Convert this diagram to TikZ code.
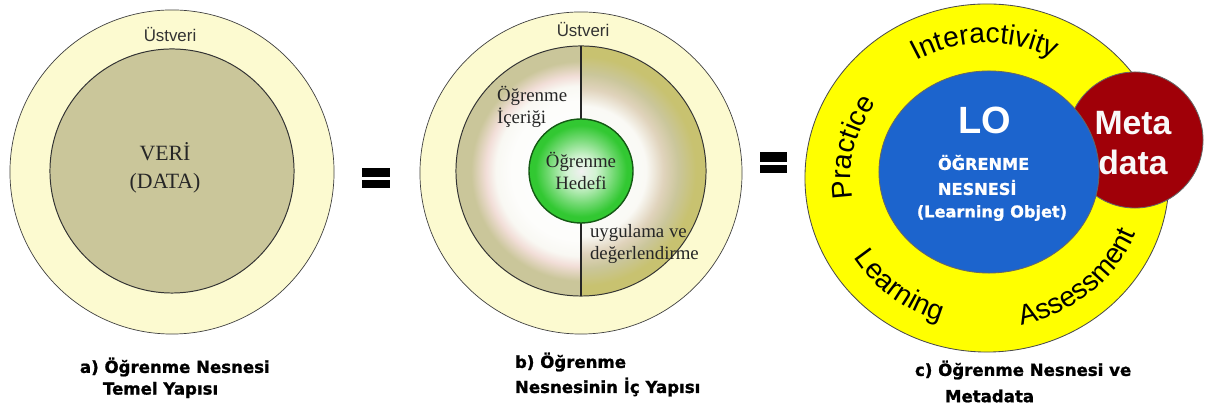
\documentclass[tikz,border=0pt]{standalone}
\usepackage{fontspec}
\setmainfont{Liberation Serif}
\setsansfont{Liberation Sans}
\newfontfamily\capfont{DejaVu Sans}[BoldFeatures={FakeBold=1.2}]
\usepackage{tikz}
\usetikzlibrary{shapes.geometric, positioning, calc, decorations.text}

\definecolor{paleyellow}{RGB}{252,250,208}
\definecolor{khaki}{RGB}{202,198,154}
\definecolor{olive}{RGB}{200,194,112}
\definecolor{glowpink}{RGB}{242,222,216}
\definecolor{goalgreen}{RGB}{50,200,50}
\definecolor{goaldark}{RGB}{20,90,20}
\definecolor{ringyellow}{RGB}{255,255,0}
\definecolor{loblue}{RGB}{28,100,205}
\definecolor{metared}{RGB}{160,0,8}

% radius of the shaded circle = 25bp
\pgfdeclareradialshading{contentglow}{\pgfpoint{0bp}{0bp}}{color(0bp)=(white); color(14bp)=(white!96!khaki); color(17bp)=(white!88!khaki); color(19bp)=(glowpink); color(22bp)=(khaki); color(50bp)=(khaki)}
\pgfdeclareradialshading{practiceglow}{\pgfpoint{0bp}{0bp}}{color(0bp)=(white); color(13bp)=(white!90!khaki); color(16.5bp)=(glowpink!55!khaki); color(19.5bp)=(khaki); color(23bp)=(olive); color(50bp)=(olive)}
\pgfdeclareradialshading{goalglow}{\pgfpoint{0bp}{0bp}}{color(0bp)=(white!88!gray); color(7bp)=(white!78!goalgreen); color(16bp)=(goalgreen!70!white); color(22bp)=(goalgreen); color(50bp)=(goalgreen)}

\tikzset{
  rim/.style={circle, draw=black!75, line width=0.5pt, fill=paleyellow},
  datacore/.style={circle, draw=black!80, line width=0.7pt, fill=khaki},
  coreline/.style={circle, draw=black!80, line width=0.7pt},
  goal/.style={circle, draw=goaldark, line width=1pt, shading=goalglow},
  rimlabel/.style={font=\sffamily\fontsize{12}{14}\selectfont, text=black!80},
  serifbig/.style={font=\fontsize{15.5}{19.5}\selectfont, align=center, text=black!85},
  serifnote/.style={font=\fontsize{13.4}{15.5}\selectfont, align=left, text=black!85},
  loring/.style={ellipse, draw=black!70, line width=0.6pt, fill=ringyellow},
  lobody/.style={ellipse, draw=black!60, line width=0.6pt, fill=loblue},
  metabubble/.style={circle, draw=black!60, line width=0.6pt, fill=metared},
  lotitle/.style={font=\sffamily\bfseries\fontsize{27}{30}\selectfont, text=white},
  lonote/.style={font=\capfont\bfseries\fontsize{11.5}{17.8}\selectfont, text=white, align=left},
  metalabel/.style={font=\sffamily\bfseries\fontsize{24}{29}\selectfont, text=white!95!gray, align=center},
  caption/.style={font=\capfont\bfseries\fontsize{11.8}{17}\selectfont, anchor=west},
  eqbar/.style={fill=black}
}

\begin{document}
\begin{tikzpicture}[x=0.025cm, y=0.025cm, every node/.style={inner sep=0pt, outer sep=0pt}]
\useasboundingbox (0,0) rectangle (1205,405);

% a) temel yapi
\node (rimA) [rim, minimum size=8.1cm] at (172,233) {};
\node (dataA) [datacore, minimum size=6.1cm] at (172,234) {};
\node (metaA) [rimlabel] at (170,370) {Üstveri};
\node (veri) [serifbig] at (165,237) {VERİ\\(DATA)};
\node (capA) [caption] at (80,38) {a) Öğrenme Nesnesi};
\node (capAb) [caption] at (103,15) {Temel Yapısı};

\fill [eqbar] (362,228) rectangle (390,237);
\fill [eqbar] (362,217) rectangle (390,225);

% b) ic yapi
\node (rimB) [rim, minimum size=8.05cm] at (581,232) {};
\begin{scope}
  \clip (450,100) rectangle (581,370);
  \shade [shading=contentglow] (581,234) circle (125);
\end{scope}
\begin{scope}
  \clip (581,100) rectangle (712,370);
  \shade [shading=practiceglow] (581,234) circle (125);
\end{scope}
\node (coreB) [coreline, minimum size=6.25cm] at (581,234) {};
\draw [black!85, line width=0.8pt] (coreB.north) -- (coreB.south);
\node (goalB) [goal, minimum size=2.6cm] at (coreB.center) {};
\node (metaB) [rimlabel] at (583,375) {Üstveri};
\node (content) [serifnote, anchor=west] at (497,298) {Öğrenme\\İçeriği};
\node (target) [serifnote, align=center] at (goalB.center) {Öğrenme\\Hedefi};
\node (practice) [serifnote, anchor=west] at (590,161) {uygulama ve\\değerlendirme};
\node (capB) [caption] at (515,43) {b) Öğrenme};
\node (capBb) [caption] at (515,18) {Nesnesinin İç Yapısı};

\fill [eqbar] (760,243) rectangle (787,253);
\fill [eqbar] (760,232) rectangle (787,240);

% c) metadata
\node (ring) [loring, minimum width=9.1cm, minimum height=8.7cm] at (987,227) {};
\node (meta) [metabubble, minimum size=3.4cm] at (1135,265) {};
\node (lo) [lobody, minimum width=5.5cm, minimum height=5.05cm] at (989,233) {};
\node (loword) [lotitle] at (985,285) {LO};
\node (loname) [lonote, anchor=west] at (938,230) {ÖĞRENME\\NESNESİ};
\node (loeng) [lonote] at (992,192) {(Learning Objet)};
\node (metaword) [metalabel] at (1133,262) {Meta\\data};
\node (capC) [caption] at (915,35) {c) Öğrenme Nesnesi ve};
\node (capCb) [caption] at (945,9) {Metadata};

\path [decorate, decoration={text along path, text align=center,
  text={|\sffamily\fontsize{20}{20}\selectfont|Interactivity}}]
  ([shift={(152:141 and 135)}]ring.center) arc[start angle=152, end angle=30, x radius=141, y radius=135];
\path [decorate, decoration={text along path, text align=center,
  text={|\sffamily\fontsize{20}{20}\selectfont|Practice}}]
  ([shift={(212:136 and 130)}]ring.center) arc[start angle=212, end angle=122, x radius=136, y radius=130];
\path [decorate, decoration={text along path, text align=center,
  text={|\sffamily\fontsize{20}{20}\selectfont|Learning}}]
  ([shift={(187:157 and 150)}]ring.center) arc[start angle=187, end angle=277, x radius=157, y radius=150];
\path [decorate, decoration={text along path, text align=center,
  text={|\sffamily\fontsize{20}{20}\selectfont|Assessment}}]
  ([shift={(264:160 and 151)}]ring.center) arc[start angle=264, end angle=358, x radius=160, y radius=151];
\end{tikzpicture}
\end{document}
